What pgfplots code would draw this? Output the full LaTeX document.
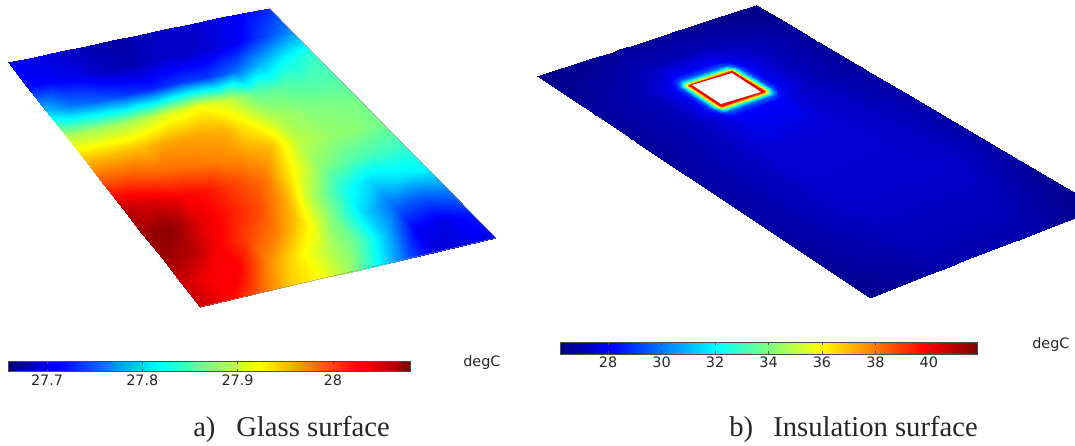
\documentclass[border=0pt]{standalone}
\usepackage{pgfplots}
\usepackage{pgfplotstable}
\usepackage{fontspec}
\pgfplotsset{compat=1.18}
\setmainfont{Liberation Serif}
\newfontfamily\dv{DejaVu Sans}
\pgfplotsset{
 canvas/.style={scale only axis,width=806.25pt,height=334.5pt,at={(0pt,0pt)},anchor=south west,
  xmin=0,xmax=1075,ymin=0,ymax=446,y dir=reverse,hide axis,
  colormap={cjet}{rgb255(0cm)=(0,0,128) rgb255(1cm)=(0,0,255) rgb255(3cm)=(0,255,255) rgb255(5cm)=(255,255,0) rgb255(7cm)=(255,0,0) rgb255(8cm)=(128,0,0)},
  colormap name=cjet},
 cbar/.style={tick align=inside,major tick length=2.2pt,tick style={color=black!70,line width=0.4pt},
  axis line style={color=black!70,line width=0.5pt},xtick pos=both,xticklabel pos=bottom,
  xticklabel style={font=\dv\fontsize{10.8pt}{12pt}\selectfont,text=black!85,yshift=1.5pt},
  scale only axis}
}
\pgfplotstableread{
s t c
0 0 27.71
.1 0 27.70
.2 0 27.69
.3 0 27.68
.4 0 27.675
.5 0 27.68
.6 0 27.69
.7 0 27.69
.8 0 27.70
.9 0 27.71
1 0 27.73
0 .1 27.715
.1 .1 27.71
.2 .1 27.70
.3 .1 27.685
.4 .1 27.68
.5 .1 27.69
.6 .1 27.69
.7 .1 27.695
.8 .1 27.71
.9 .1 27.74
1 .1 27.77
0 .2 27.79
.1 .2 27.76
.2 .2 27.75
.3 .2 27.735
.4 .2 27.725
.5 .2 27.735
.6 .2 27.735
.7 .2 27.755
.8 .2 27.79
.9 .2 27.82
1 .2 27.84
0 .3 27.89
.1 .3 27.885
.2 .3 27.885
.3 .3 27.895
.4 .3 27.91
.5 .3 27.92
.6 .3 27.90
.7 .3 27.86
.8 .3 27.855
.9 .3 27.85
1 .3 27.85
0 .4 27.95
.1 .4 27.95
.2 .4 27.95
.3 .4 27.96
.4 .4 27.96
.5 .4 27.955
.6 .4 27.925
.7 .4 27.89
.8 .4 27.875
.9 .4 27.87
1 .4 27.865
0 .5 28.0
.1 .5 27.995
.2 .5 27.985
.3 .5 27.98
.4 .5 27.975
.5 .5 27.965
.6 .5 27.95
.7 .5 27.895
.8 .5 27.88
.9 .5 27.875
1 .5 27.865
0 .6 28.055
.1 .6 28.045
.2 .6 28.03
.3 .6 28.02
.4 .6 28.0
.5 .6 27.98
.6 .6 27.925
.7 .6 27.875
.8 .6 27.855
.9 .6 27.845
1 .6 27.84
0 .7 28.07
.1 .7 28.075
.2 .7 28.04
.3 .7 28.02
.4 .7 28.0
.5 .7 27.96
.6 .7 27.885
.7 .7 27.83
.8 .7 27.80
.9 .7 27.81
1 .7 27.815
0 .8 28.07
.1 .8 28.06
.2 .8 28.03
.3 .8 28.0
.4 .8 27.975
.5 .8 27.93
.6 .8 27.865
.7 .8 27.80
.8 .8 27.755
.9 .8 27.745
1 .8 27.76
0 .9 28.05
.1 .9 28.03
.2 .9 28.03
.3 .9 27.97
.4 .9 27.93
.5 .9 27.895
.6 .9 27.86
.7 .9 27.79
.8 .9 27.71
.9 .9 27.70
1 .9 27.72
0 1 28.05
.1 1 28.03
.2 1 27.99
.3 1 27.945
.4 1 27.925
.5 1 27.885
.6 1 27.82
.7 1 27.75
.8 1 27.695
.9 1 27.70
1 1 27.71
}\glass
\pgfplotstableread{
s t c
0 0 26.4
.25 0 26.5
.345 0 26.6
.375 0 26.6
.392 0 26.6
.405 0 26.6
.415 0 26.6
.606 0 26.6
.616 0 26.6
.629 0 26.6
.646 0 26.6
.676 0 26.5
.8 0 26.4
1 0 26.3
0 .08 26.5
.25 .08 26.8
.345 .08 27
.375 .08 27
.392 .08 27
.405 .08 27
.415 .08 27
.606 .08 27
.616 .08 27
.629 .08 27
.646 .08 27
.676 .08 27
.8 .08 26.8
1 .08 26.5
0 .14 26.6
.25 .14 27
.345 .14 27.5
.375 .14 27.7
.392 .14 27.9
.405 .14 28
.415 .14 28.1
.606 .14 28.1
.616 .14 28
.629 .14 27.9
.646 .14 27.7
.676 .14 27.5
.8 .14 27.1
1 .14 26.6
0 .158 26.6
.25 .158 27.1
.345 .158 27.7
.375 .158 28.2
.392 .158 28.8
.405 .158 29.2
.415 .158 29.5
.606 .158 29.5
.616 .158 29.2
.629 .158 28.8
.646 .158 28.2
.676 .158 27.7
.8 .158 27.1
1 .158 26.6
0 .168 26.6
.25 .168 27.1
.345 .168 27.8
.375 .168 28.6
.392 .168 30.2
.405 .168 31.6
.415 .168 32
.606 .168 32
.616 .168 31.6
.629 .168 30.2
.646 .168 28.6
.676 .168 27.8
.8 .168 27.1
1 .168 26.6
0 .175 26.6
.25 .175 27.1
.345 .175 27.9
.375 .175 28.9
.392 .175 31.2
.405 .175 35
.415 .175 36
.606 .175 36
.616 .175 35
.629 .175 31.2
.646 .175 28.9
.676 .175 27.9
.8 .175 27.1
1 .175 26.6
0 .182 26.6
.25 .182 27.1
.345 .182 27.9
.375 .182 29.2
.392 .182 32
.405 .182 36
.415 .182 40
.606 .182 40
.616 .182 36
.629 .182 32
.646 .182 29.2
.676 .182 27.9
.8 .182 27.1
1 .182 26.6
0 .277 26.6
.25 .277 27.1
.345 .277 27.9
.375 .277 29.2
.392 .277 32
.405 .277 36
.415 .277 40
.606 .277 40
.616 .277 36
.629 .277 32
.646 .277 29.2
.676 .277 27.9
.8 .277 27.1
1 .277 26.6
0 .284 26.6
.25 .284 27.1
.345 .284 27.9
.375 .284 28.9
.392 .284 31.2
.405 .284 35
.415 .284 36
.606 .284 36
.616 .284 35
.629 .284 31.2
.646 .284 28.9
.676 .284 27.9
.8 .284 27.1
1 .284 26.6
0 .291 26.6
.25 .291 27.1
.345 .291 27.8
.375 .291 28.6
.392 .291 30.2
.405 .291 31.6
.415 .291 32
.606 .291 32
.616 .291 31.6
.629 .291 30.2
.646 .291 28.6
.676 .291 27.8
.8 .291 27.1
1 .291 26.6
0 .301 26.6
.25 .301 27.1
.345 .301 27.7
.375 .301 28.2
.392 .301 28.8
.405 .301 29.2
.415 .301 29.5
.606 .301 29.5
.616 .301 29.2
.629 .301 28.8
.646 .301 28.2
.676 .301 27.7
.8 .301 27.1
1 .301 26.6
0 .319 26.6
.25 .319 27.1
.345 .319 27.5
.375 .319 27.7
.392 .319 27.9
.405 .319 28
.415 .319 28.1
.606 .319 28.1
.616 .319 28
.629 .319 27.9
.646 .319 27.7
.676 .319 27.5
.8 .319 27.2
1 .319 26.7
0 .45 26.7
.25 .45 27.2
.345 .45 27.5
.375 .45 27.5
.392 .45 27.5
.405 .45 27.5
.415 .45 27.5
.606 .45 27.5
.616 .45 27.5
.629 .45 27.5
.646 .45 27.5
.676 .45 27.5
.8 .45 27.3
1 .45 26.8
0 .7 26.7
.25 .7 27.2
.345 .7 27.4
.375 .7 27.4
.392 .7 27.4
.405 .7 27.4
.415 .7 27.4
.606 .7 27.4
.616 .7 27.4
.629 .7 27.4
.646 .7 27.4
.676 .7 27.4
.8 .7 27.4
1 .7 26.8
0 1 26.4
.25 1 26.7
.345 1 26.9
.375 1 26.9
.392 1 26.9
.405 1 26.9
.415 1 26.9
.606 1 26.9
.616 1 26.9
.629 1 26.9
.646 1 26.9
.676 1 26.9
.8 1 26.7
1 1 26.3
}\insul
\begin{document}
\begin{tikzpicture}
\useasboundingbox (0pt,0pt) rectangle (806.25pt,334.5pt);
\begin{axis}[canvas,point meta min=27.659,point meta max=28.081,
 colorbar horizontal,
 colorbar style={cbar,at={(6pt,72.25pt)},anchor=north west,width=301.5pt,height=8pt,
  xtick={27.7,27.8,27.9,28},xticklabels={27.7,27.8,27.9,28}}]
\addplot[surf,shader=interp,mesh/cols=11,mesh/ordering=x varies,point meta=\thisrow{c}] table[
 x expr={8*(1-\thisrow{s})*(1-\thisrow{t})+268.5*\thisrow{s}*(1-\thisrow{t})+200*(1-\thisrow{s})*\thisrow{t}+496*\thisrow{s}*\thisrow{t}},
 y expr={62*(1-\thisrow{s})*(1-\thisrow{t})+7.5*\thisrow{s}*(1-\thisrow{t})+307*(1-\thisrow{s})*\thisrow{t}+238*\thisrow{s}*\thisrow{t}}] {\glass};
\addplot[black!45,line width=0.3pt] coordinates {(268.5,7.5) (496,238) (200,307)};
\node[anchor=base west,inner sep=0,font=\dv\fontsize{10.8pt}{12pt}\selectfont,text=black!85] at (axis cs:463,366) {degC};
\node[anchor=base west,inner sep=0,font=\fontsize{21.5pt}{24pt}\selectfont,text=black!85] at (axis cs:193,436) {a)};
\node[anchor=base west,inner sep=0,font=\fontsize{21.5pt}{24pt}\selectfont,text=black!85] at (axis cs:236,436) {Glass surface};
\end{axis}
\begin{axis}[canvas,point meta min=26.2,point meta max=41.8,
 colorbar horizontal,
 colorbar style={cbar,at={(420pt,86.25pt)},anchor=north west,width=312.75pt,height=9pt,
  xtick={28,30,32,34,36,38,40},xticklabels={28,30,32,34,36,38,40}}]
\addplot[surf,shader=interp,mesh/cols=14,mesh/ordering=x varies,point meta=\thisrow{c}] table[
 x expr={537*(1-\thisrow{s})*(1-\thisrow{t})+756*\thisrow{s}*(1-\thisrow{t})+869.5*(1-\thisrow{s})*\thisrow{t}+1100.6*\thisrow{s}*\thisrow{t}},
 y expr={76*(1-\thisrow{s})*(1-\thisrow{t})+5*\thisrow{s}*(1-\thisrow{t})+297.5*(1-\thisrow{s})*\thisrow{t}+208*\thisrow{s}*\thisrow{t}}] {\insul};
\addplot[fill=white,draw=none,no marks] coordinates {(692,85) (732,73) (761,92) (721,104) (692,85)};
\node[anchor=base west,inner sep=0,font=\dv\fontsize{10.8pt}{12pt}\selectfont,text=black!85] at (axis cs:1032,348) {degC};
\node[anchor=base west,inner sep=0,font=\fontsize{21.5pt}{24pt}\selectfont,text=black!85] at (axis cs:729,436) {b)};
\node[anchor=base west,inner sep=0,font=\fontsize{21.5pt}{24pt}\selectfont,text=black!85] at (axis cs:773,436) {Insulation surface};
\end{axis}
\end{tikzpicture}
\end{document}
